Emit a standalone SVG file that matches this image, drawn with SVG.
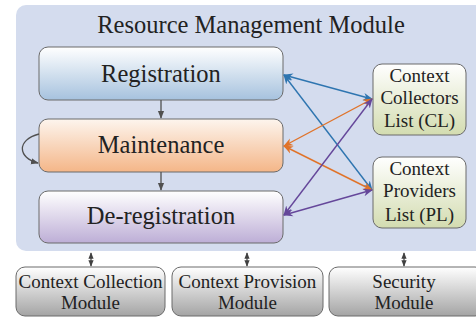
<svg xmlns="http://www.w3.org/2000/svg" width="476" height="320" viewBox="0 0 476 320">
<defs>
<linearGradient id="gBlue" x1="0" y1="0" x2="0" y2="1"><stop offset="0" stop-color="#ffffff"/><stop offset="1" stop-color="#a6c2de"/></linearGradient>
<linearGradient id="gOrange" x1="0" y1="0" x2="0" y2="1"><stop offset="0" stop-color="#fdf5ee"/><stop offset="1" stop-color="#f4b688"/></linearGradient>
<linearGradient id="gPurple" x1="0" y1="0" x2="0" y2="1"><stop offset="0" stop-color="#ffffff"/><stop offset="1" stop-color="#bdaed6"/></linearGradient>
<linearGradient id="gGreen" x1="0" y1="0" x2="0" y2="1"><stop offset="0" stop-color="#ffffff"/><stop offset="1" stop-color="#d3dcb0"/></linearGradient>
<linearGradient id="gGray" x1="0" y1="0" x2="0" y2="1"><stop offset="0" stop-color="#ffffff"/><stop offset="1" stop-color="#a4a4a4"/></linearGradient>
<marker id="aGray" viewBox="0 0 10 10" refX="9" refY="5" markerWidth="6" markerHeight="6" orient="auto-start-reverse"><path d="M0,1 L10,5 L0,9 z" fill="#505050"/></marker>
<marker id="aSmall" viewBox="0 0 10 10" refX="9" refY="5" markerWidth="5" markerHeight="5" orient="auto-start-reverse"><path d="M0,1 L10,5 L0,9 z" fill="#404040"/></marker>
<marker id="aBlue" viewBox="0 0 10 10" refX="9" refY="5" markerWidth="7" markerHeight="7" orient="auto-start-reverse"><path d="M0,1 L10,5 L0,9 L3,5 z" fill="#2e75b0"/></marker>
<marker id="aOrange" viewBox="0 0 10 10" refX="9" refY="5" markerWidth="7" markerHeight="7" orient="auto-start-reverse"><path d="M0,1 L10,5 L0,9 L3,5 z" fill="#e0732a"/></marker>
<marker id="aPurple" viewBox="0 0 10 10" refX="9" refY="5" markerWidth="7" markerHeight="7" orient="auto-start-reverse"><path d="M0,1 L10,5 L0,9 L3,5 z" fill="#65479a"/></marker>
</defs>
<style>
text{font-family:'Liberation Serif','Times New Roman',Times,serif;fill:#222;text-anchor:middle}
.big{font-size:24.5px}
.sm{font-size:19px}
.box{stroke:#6a6a6a;stroke-width:1}
.gl{stroke:#505050;stroke-width:1.3;fill:none}
.cb{stroke:#2e75b0;stroke-width:1.4;fill:none;marker-start:url(#aBlue);marker-end:url(#aBlue)}
.co{stroke:#e0732a;stroke-width:1.4;fill:none;marker-start:url(#aOrange);marker-end:url(#aOrange)}
.cp{stroke:#65479a;stroke-width:1.4;fill:none;marker-start:url(#aPurple);marker-end:url(#aPurple)}
</style>
<rect width="476" height="320" fill="#ffffff"/>
<g font-family="Liberation Serif, Times New Roman, serif">
<g id="rmm">
<rect x="16" y="5" width="470" height="246" rx="10" fill="#d4dcee"/>
<text class="big" x="251" y="33">Resource Management Module</text>
</g>
<g id="registration">
<rect class="box" x="39" y="47" width="244" height="53" rx="9" fill="url(#gBlue)"/>
<text class="big" x="161" y="82">Registration</text>
</g>
<g id="maintenance">
<rect class="box" x="39" y="119" width="244" height="53" rx="9" fill="url(#gOrange)"/>
<text class="big" x="161" y="153">Maintenance</text>
</g>
<g id="deregistration">
<rect class="box" x="39" y="191" width="244" height="52" rx="9" fill="url(#gPurple)"/>
<text class="big" x="161" y="224">De-registration</text>
</g>
<g id="cl">
<rect class="box" x="373" y="64" width="93" height="71" rx="9" fill="url(#gGreen)"/>
<text class="sm" x="419.5" y="82">Context</text>
<text class="sm" x="419.5" y="104">Collectors</text>
<text class="sm" x="419.5" y="127">List (CL)</text>
</g>
<g id="pl">
<rect class="box" x="373" y="157" width="93" height="71" rx="9" fill="url(#gGreen)"/>
<text class="sm" x="419.5" y="175">Context</text>
<text class="sm" x="419.5" y="197">Providers</text>
<text class="sm" x="419.5" y="221">List (PL)</text>
</g>
<g id="ccm">
<rect class="box" x="16" y="267" width="149" height="49" rx="9" fill="url(#gGray)"/>
<text class="sm" x="90.5" y="288">Context Collection</text>
<text class="sm" x="90.5" y="309">Module</text>
</g>
<g id="cpm">
<rect class="box" x="172" y="267" width="151" height="49" rx="9" fill="url(#gGray)"/>
<text class="sm" x="247.5" y="288">Context Provision</text>
<text class="sm" x="247.5" y="309">Module</text>
</g>
<g id="sm">
<rect class="box" x="329" y="267" width="155" height="49" rx="9" fill="url(#gGray)"/>
<text class="sm" x="404" y="288">Security</text>
<text class="sm" x="404" y="309">Module</text>
</g>
</g>
<g id="connectors">
<line class="gl" x1="161" y1="100" x2="161" y2="118" marker-end="url(#aGray)"/>
<line class="gl" x1="161" y1="172" x2="161" y2="190" marker-end="url(#aGray)"/>
<path class="gl" d="M39,134 C16,140 18,158 38,163" marker-end="url(#aGray)"/>
<line class="gl" x1="91" y1="253" x2="91" y2="266" stroke-width="1" marker-start="url(#aSmall)" marker-end="url(#aSmall)"/>
<line class="gl" x1="247" y1="253" x2="247" y2="266" stroke-width="1" marker-start="url(#aSmall)" marker-end="url(#aSmall)"/>
<line class="gl" x1="404" y1="253" x2="404" y2="266" stroke-width="1" marker-start="url(#aSmall)" marker-end="url(#aSmall)"/>
<line class="cb" x1="284" y1="75" x2="372" y2="99"/>
<line class="cb" x1="284" y1="75" x2="372" y2="190"/>
<line class="co" x1="284" y1="146" x2="372" y2="99"/>
<line class="co" x1="284" y1="146" x2="372" y2="190"/>
<line class="cp" x1="284" y1="215" x2="372" y2="99"/>
<line class="cp" x1="284" y1="215" x2="372" y2="190"/>
</g>
</svg>
